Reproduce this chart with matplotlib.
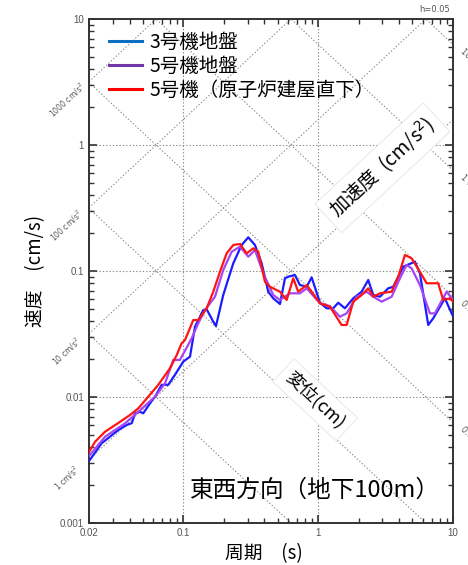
import numpy as np
import matplotlib
matplotlib.use("Agg")
import matplotlib.pyplot as plt
from matplotlib.lines import Line2D
from matplotlib.ticker import LogLocator, NullFormatter, FixedLocator, FixedFormatter

plt.rcParams['font.family'] = ['Noto Sans CJK JP', 'DejaVu Sans']

# response spectra (period s, velocity cm/s)
t_unit3 = [0.020, 0.0248, 0.0330, 0.0381, 0.0415, 0.0439, 0.0478, 0.0505, 0.0567, 0.0617,
           0.0692, 0.0774, 0.0868, 0.100, 0.1122, 0.1221, 0.1407, 0.1491, 0.1669, 0.1748,
           0.1979, 0.2348, 0.2710, 0.3034, 0.340, 0.3813, 0.4268, 0.4647, 0.5212, 0.5676,
           0.6006, 0.673, 0.733, 0.8222, 0.8952, 1.032, 1.156, 1.294, 1.409, 1.580,
           1.821, 2.102, 2.352, 2.562, 2.871, 3.310, 3.604, 4.274, 5.22, 5.686,
           6.55, 7.134, 8.71, 9.77, 10.0]
sv_unit3 = [0.0031, 0.00429, 0.00547, 0.0060, 0.0062, 0.00742, 0.00764, 0.00742, 0.00891, 0.01005,
            0.0125, 0.0125, 0.0150, 0.0191, 0.0209, 0.0361, 0.0490, 0.0497, 0.0396, 0.0366,
            0.0645, 0.1151, 0.1608, 0.1851, 0.1608, 0.1151, 0.0685, 0.0607, 0.0547, 0.0875,
            0.0901, 0.0929, 0.0774, 0.0750, 0.0891, 0.0560, 0.0506, 0.0506, 0.0560, 0.0506,
            0.0607, 0.0685, 0.0848, 0.0645, 0.0625, 0.0729, 0.0750, 0.1081, 0.1185, 0.0959,
            0.0373, 0.0421, 0.0607, 0.0461, 0.0440]

t_unit5 = [0.020, 0.0263, 0.0370, 0.0464, 0.0617, 0.0732, 0.0843, 0.0945, 0.1154, 0.1292,
           0.1449, 0.1718, 0.1979, 0.2285, 0.2632, 0.3034, 0.340, 0.392, 0.4647, 0.5212,
           0.618, 0.733, 0.8222, 1.032, 1.223, 1.451, 1.627, 1.929, 2.289, 2.562,
           2.956, 3.508, 4.04, 4.53, 4.934, 5.686, 6.744, 7.344, 8.97, 10.0]
sv_unit5 = [0.0034, 0.00484, 0.00618, 0.00764, 0.01005, 0.0128, 0.0197, 0.0197, 0.0292, 0.0385,
            0.0490, 0.0625, 0.1018, 0.1422, 0.1559, 0.1299, 0.1468, 0.0959, 0.0645, 0.0589,
            0.0665, 0.0665, 0.0729, 0.0554, 0.0526, 0.0434, 0.0461, 0.0625, 0.0685, 0.0625,
            0.0571, 0.0625, 0.0875, 0.1116, 0.1050, 0.0774, 0.0461, 0.0461, 0.0685, 0.0589]

t_unit5_rb = [0.020, 0.0222, 0.0263, 0.0321, 0.0403, 0.0464, 0.0550, 0.0653, 0.0797, 0.0894,
              0.0973, 0.103, 0.1186, 0.1292, 0.1491, 0.1669, 0.1871, 0.2098, 0.2348, 0.2632,
              0.2952, 0.3304, 0.3597, 0.4034, 0.4394, 0.5212, 0.5843, 0.6538, 0.7119, 0.8222,
              1.032, 1.223, 1.493, 1.627, 1.821, 2.102, 2.352, 2.562, 2.871, 3.508,
              3.926, 4.40, 4.934, 5.686, 6.374, 7.77, 8.46, 9.49, 10.0]
sv_unit5_rb = [0.00366, 0.00442, 0.0053, 0.0061, 0.0072, 0.00813, 0.01005, 0.0125, 0.0169, 0.0215,
               0.0267, 0.0283, 0.0408, 0.0408, 0.0506, 0.0685, 0.0987, 0.1381, 0.1608, 0.1638,
               0.1381, 0.1514, 0.1422, 0.0822, 0.0750, 0.0685, 0.0589, 0.0875, 0.0685, 0.0774,
               0.0554, 0.0521, 0.0373, 0.0373, 0.0571, 0.0645, 0.0729, 0.0625, 0.0665, 0.0685,
               0.0901, 0.1340, 0.1261, 0.0987, 0.0799, 0.0799, 0.0589, 0.0607, 0.0571]

series_labels = ['3号機地盤', '5号機地盤', '5号機（原子炉建屋直下）']
line_colors = ['#1c1cff', '#a545f5', '#ff1414']
legend_colors = ['#0b70c4', '#7236a6', '#ff0000']

x_ticks = [0.02, 0.1, 1, 10]
x_ticklabels = ['0.02', '0.1', '1', '10']
y_ticks = [0.001, 0.01, 0.1, 1, 10]
y_ticklabels = ['0.001', '0.01', '0.1', '1', '10']

accel_levels = [1, 10, 100, 1000, 10000]          # cm/s^2
disp_levels = [0.0001, 0.001, 0.01, 0.1, 1, 10]   # cm

fig = plt.figure(figsize=(4.68, 5.65), dpi=100)
ax = fig.add_axes([89 / 468, 1 - 523 / 565, 364 / 468, 504 / 565])
ax.set_xscale('log')
ax.set_yscale('log')
ax.set_xlim(0.02, 10)
ax.set_ylim(0.001, 10)

# tripartite grid
tt = np.logspace(np.log10(0.02), 1, 200)
grid_kw = dict(color='#8a8a8a', lw=0.8, ls=(0, (1.2, 1.8)), zorder=1)
for a in accel_levels:
    ax.plot(tt, a * tt / (2 * np.pi), **grid_kw)
for d in disp_levels:
    ax.plot(tt, 2 * np.pi * d / tt, **grid_kw)
for yv in [0.01, 0.1, 1]:
    ax.axhline(yv, **grid_kw)
for xv in [0.1, 1]:
    ax.axvline(xv, **grid_kw)

# acceleration labels at left edge
for a, lab in zip([1, 10, 100, 1000], ['1 cm/s$^2$', '10 cm/s$^2$', '100 cm/s$^2$', '1000 cm/s$^2$']):
    yv = a * 0.02 / (2 * np.pi)
    ax.annotate(lab, xy=(0.02, yv), xycoords='data', xytext=(-16, -13), textcoords='offset points',
                rotation=43, ha='center', va='center', fontsize=5.5, color='#555555',
                family='DejaVu Sans', annotation_clip=False)
# displacement labels at right edge (cut by figure edge, as in the source)
for d, lab in zip([0.01, 0.1, 1, 10], ['0.01 cm', '0.1 cm', '1 cm', '10 cm']):
    yv = 2 * np.pi * d / 10
    ax.annotate(lab, xy=(10, yv), xycoords='data', xytext=(6, -4), textcoords='offset points',
                rotation=-43, ha='left', va='center', fontsize=6, color='#555555',
                family='DejaVu Sans', annotation_clip=False, rotation_mode='anchor')

box = dict(boxstyle='square,pad=0.35', fc='white', ec='#e4e4e4', lw=0.6)
ax.text(3.0, 0.66, '加速度  (cm/s$^2$)', rotation=43, ha='center', va='center',
        rotation_mode='anchor', fontsize=14, bbox=box, zorder=2)
ax.text(0.95, 0.0095, '変位(cm)', rotation=-43, ha='center', va='center',
        rotation_mode='anchor', fontsize=13, bbox=box, zorder=2)

# spectra
for t, sv, c in zip([t_unit3, t_unit5, t_unit5_rb], [sv_unit3, sv_unit5, sv_unit5_rb], line_colors):
    ax.plot(t, sv, color=c, lw=1.6, zorder=3)

handles = [Line2D([], [], color=c, lw=2.2) for c in legend_colors]
ax.legend(handles, series_labels, loc='upper left', bbox_to_anchor=(0.02, 1.0), frameon=False,
          fontsize=14, handlelength=1.7, handletextpad=0.4, labelspacing=0.15, borderaxespad=0.25)

ax.text((440 - 89) / 364, 0.065, '東西方向（地下100m）', transform=ax.transAxes, ha='right', va='center',
        fontsize=17, zorder=4)

# axes styling
ax.xaxis.set_major_locator(FixedLocator(x_ticks))
ax.xaxis.set_major_formatter(FixedFormatter(x_ticklabels))
ax.xaxis.set_minor_locator(LogLocator(base=10, subs=np.arange(2, 10)))
ax.xaxis.set_minor_formatter(NullFormatter())
ax.yaxis.set_major_locator(FixedLocator(y_ticks))
ax.yaxis.set_major_formatter(FixedFormatter(y_ticklabels))
ax.yaxis.set_minor_locator(LogLocator(base=10, subs=np.arange(2, 10)))
ax.yaxis.set_minor_formatter(NullFormatter())
ax.tick_params(which='both', direction='in', top=True, right=True, colors='#333333',
               labelcolor='#555555', labelsize=7)
ax.tick_params(which='major', length=6, width=1.2)
ax.tick_params(which='minor', length=3.5, width=1.0)
for lbl in ax.get_xticklabels() + ax.get_yticklabels():
    lbl.set_family('Liberation Sans')
for sp in ax.spines.values():
    sp.set_linewidth(1.4)
    sp.set_color('#333333')

ax.set_xlabel('周期　(s)', fontsize=13.5, labelpad=4, x=(264 - 89) / 364)
ax.set_ylabel('速度　(cm/s)', fontsize=13.5, labelpad=10)

fig.text(435 / 468, 1 - 9 / 565, 'h=0.05', ha='center', va='center', fontsize=6,
         color='#555555', family='DejaVu Sans')

fig.savefig('out.png', dpi=100)
